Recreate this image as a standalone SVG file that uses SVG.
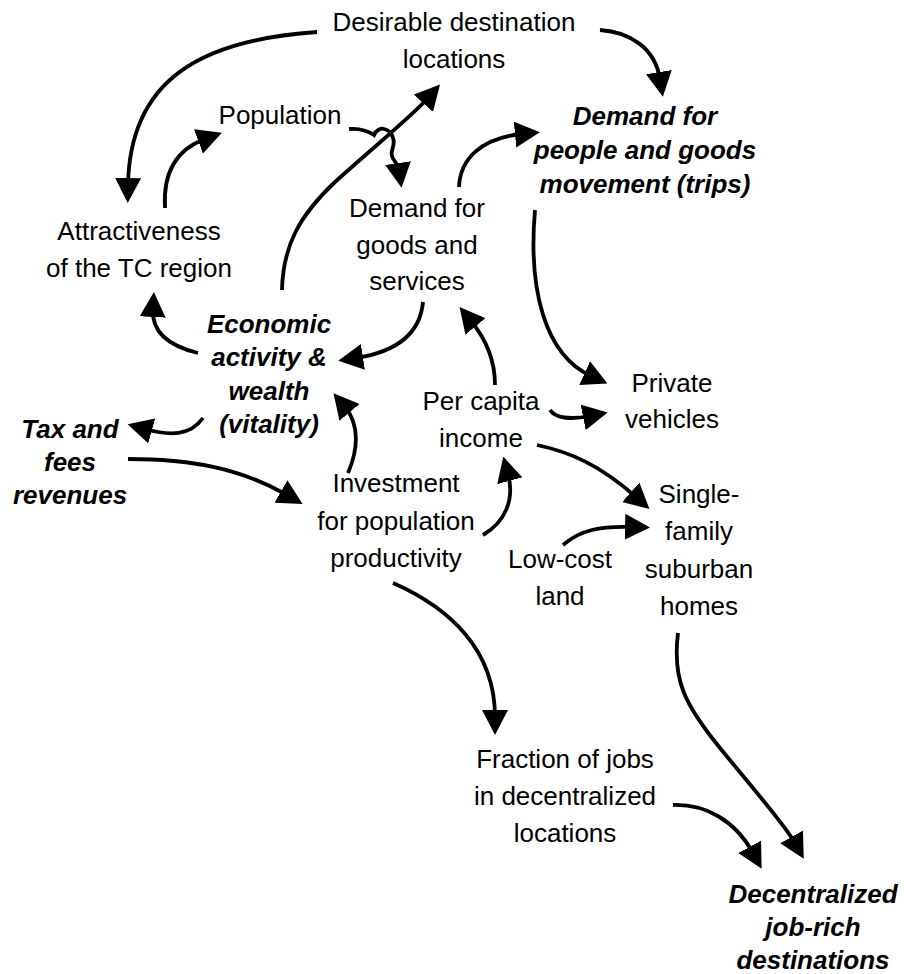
<svg xmlns="http://www.w3.org/2000/svg" width="904" height="974" viewBox="0 0 904 974">
<style>
text{font-family:"Liberation Sans",Arial,sans-serif;font-size:26px;fill:#000;text-anchor:middle}
.b{font-weight:bold;font-style:italic}
.c{fill:none;stroke:#000;stroke-width:3.8;stroke-linecap:butt;marker-end:url(#ah)}
</style>
<defs>
<marker id="ah" viewBox="0 0 25 26" refX="7" refY="13" markerWidth="25" markerHeight="26" markerUnits="userSpaceOnUse" orient="auto">
<path d="M0,0 L25,13 L0,26 z" fill="#000"/>
</marker>
</defs>
<rect width="904" height="974" fill="#fff"/>
<g id="connectors">
<path class="c" d="M317,32 C200,40 130,80 128,185"/>
<path class="c" d="M165,208 C163,175 175,150 205,139"/>
<path class="c" d="M349,129 C360,128 368,131 374,135 C376,130 381,128 384,129 C389,130 392,134 393,138 C396,145 390,150 392,156 C393,161 398,163 399,170"/>
<path class="c" d="M282,290 C283,245 300,215 335,182 C370,150 410,118 428,98"/>
<path class="c" d="M459,187 C460,160 480,138 522,134"/>
<path class="c" d="M600,30 C630,32 655,48 660,79"/>
<path class="c" d="M535,210 C528,290 545,355 591,376"/>
<path class="c" d="M423,302 C420,335 395,352 356,358"/>
<path class="c" d="M198,353 C165,345 152,330 153,310"/>
<path class="c" d="M203,418 C190,436 170,436 145,429"/>
<path class="c" d="M128,459 C190,459 240,468 287,495"/>
<path class="c" d="M348,473 C358,450 360,425 345,407"/>
<path class="c" d="M495,385 C495,360 485,338 471,321"/>
<path class="c" d="M550,410 C555,418 570,420 590,416"/>
<path class="c" d="M537,445 C570,452 600,465 636,497"/>
<path class="c" d="M483,535 C505,522 515,500 508,474"/>
<path class="c" d="M563,545 C580,530 600,526 632,527"/>
<path class="c" d="M393,583 C450,608 495,650 495,717"/>
<path class="c" d="M678,633 C672,680 685,705 720,748 S785,825 795,843"/>
<path class="c" d="M673,805 C705,804 735,820 753,853"/>
</g>
<g id="desirable"><text x="454" y="31">Desirable destination</text><text x="454" y="68">locations</text></g>
<g id="population"><text x="280" y="124">Population</text></g>
<g id="demand-trips"><text class="b" x="645" y="125">Demand for</text><text class="b" x="645" y="159">people and goods</text><text class="b" x="645" y="193">movement (trips)</text></g>
<g id="attractiveness"><text x="139" y="240">Attractiveness</text><text x="139" y="277">of the TC region</text></g>
<g id="demand-goods"><text x="417" y="217">Demand for</text><text x="417" y="254">goods and</text><text x="417" y="290">services</text></g>
<g id="economic"><text class="b" x="269" y="333">Economic</text><text class="b" x="269" y="366">activity &amp;</text><text class="b" x="269" y="400">wealth</text><text class="b" x="269" y="433">(vitality)</text></g>
<g id="tax"><text class="b" x="70" y="438">Tax and</text><text class="b" x="70" y="471">fees</text><text class="b" x="70" y="504">revenues</text></g>
<g id="vehicles"><text x="672" y="392">Private</text><text x="672" y="428">vehicles</text></g>
<g id="income"><text x="481" y="410">Per capita</text><text x="481" y="447">income</text></g>
<g id="investment"><text x="396" y="492">Investment</text><text x="396" y="530">for population</text><text x="396" y="567">productivity</text></g>
<g id="homes"><text x="699" y="503">Single-</text><text x="699" y="540">family</text><text x="699" y="578">suburban</text><text x="699" y="615">homes</text></g>
<g id="land"><text x="560" y="568">Low-cost</text><text x="560" y="605">land</text></g>
<g id="fraction"><text x="565" y="768">Fraction of jobs</text><text x="565" y="805">in decentralized</text><text x="565" y="842">locations</text></g>
<g id="decentralized"><text class="b" x="813" y="903">Decentralized</text><text class="b" x="813" y="936">job-rich</text><text class="b" x="813" y="969">destinations</text></g>
</svg>
